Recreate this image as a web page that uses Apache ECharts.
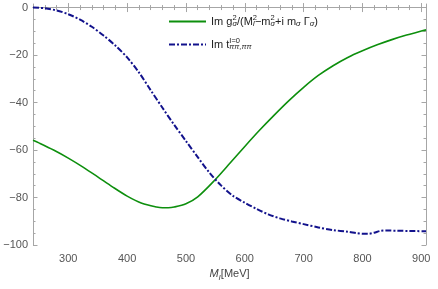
<!DOCTYPE html>
<html><head><meta charset="utf-8">
<script src="https://cdn.jsdelivr.net/npm/echarts@6/dist/echarts.min.js"></script>
<style>html,body{margin:0;padding:0;background:#fff}#c{width:438px;height:289px}</style>
</head><body><div id="c"></div>
<script>
// Green: Im g^2/(M^2 - m^2 + i m Γ)
const massG = [240,250,275,300,325,350,375,400,425,450,460,470,480,500,520,550,575,600,625,650,675,700,725,750,775,800,825,850,875,900,908];
const imG   = [-55.9,-57.0,-60.0,-63.4,-67.2,-71.3,-75.5,-79.4,-82.4,-84.0,-84.3,-84.3,-84.0,-82.6,-79.7,-72.4,-65.5,-58.5,-51.7,-45.3,-39.2,-33.6,-28.6,-24.5,-21.0,-18.2,-15.7,-13.5,-11.6,-9.9,-9.4];
// Blue: Im t^{I=0}_{ππ,ππ}
const massB = [240,260,280,300,320,340,360,380,400,420,440,460,480,500,520,540,560,580,600,620,640,660,680,700,725,750,775,790,800,810,820,830,840,860,880,908];
const imB   = [0,-0.3,-1.2,-2.8,-5.1,-8.1,-11.8,-16.0,-21.0,-27.3,-34.8,-42.2,-49.4,-56.2,-63.0,-69.6,-75.0,-79.3,-82.2,-84.8,-87.1,-88.8,-90.1,-91.2,-92.6,-93.7,-94.4,-95.0,-95.3,-95.3,-94.8,-94.1,-93.9,-94.0,-94.1,-94.2];
// Ticks
const xMajor = [300,400,500,600,700,800,900];
const xMinor = []; for (let v = 260; v <= 900; v += 20) xMinor.push(v);
const yMajor = [-100,-80,-60,-40,-20,0];
const yMinor = []; for (let v = -95; v <= 0; v += 5) yMinor.push(v);
const xRange = [240, 908];
const yRange = [-100, 1.5];

const axisColor = '#a6a6a6';
const font = 'Liberation Sans, Arial, sans-serif';
function xAx(pos, vals, len, labels, line) {
  return {type:'value', position:pos, min:xRange[0], max:xRange[1], gridIndex:0,
    axisLine:{show:line, lineStyle:{color:axisColor, width:1}},
    axisTick:{show:true, inside:true, length:len, customValues:vals, lineStyle:{color:axisColor}},
    axisLabel:{show:labels, customValues:xMajor, color:'#555', fontSize:11, fontFamily:font, margin:8},
    splitLine:{show:false}};
}
function yAx(pos, vals, len, labels, line) {
  return {type:'value', position:pos, min:yRange[0], max:yRange[1], gridIndex:0,
    axisLine:{show:line, onZero:false, lineStyle:{color:axisColor, width:1}},
    axisTick:{show:true, inside:true, length:len, customValues:vals, lineStyle:{color:axisColor}},
    axisLabel:{show:labels, customValues:yMajor, color:'#555', fontSize:11, fontFamily:font, margin:5,
      formatter: v => v < 0 ? '\u2212' + (-v) : String(v)},
    splitLine:{show:false}};
}
const xAxes = [xAx('bottom', xMajor, 4.5, true, true), xAx('bottom', xMinor, 2.5, false, false),
               xAx('top', xMajor, 4.5, false, true), xAx('top', xMinor, 2.5, false, false)];
xAxes[0].name = '{it|M}{sb|I}{n|[MeV]}';
xAxes[0].nameLocation = 'middle';
xAxes[0].nameGap = 22;
xAxes[0].nameTextStyle = {fontFamily:font, color:'#444', rich:{
  it:{fontSize:11, fontStyle:'italic', color:'#444', fontFamily:font},
  sb:{fontSize:8, fontStyle:'italic', color:'#444', fontFamily:font, padding:[6,0,0,0]},
  n:{fontSize:11, color:'#444', fontFamily:font}}};
const yAxes = [yAx('left', yMajor, 4.5, true, true), yAx('left', yMinor, 2.5, false, false),
               yAx('right', yMajor, 4.5, false, true), yAx('right', yMinor, 2.5, false, false)];

const pairs = (xs, ys) => xs.map((x, i) => [x, ys[i]]);
const greenName = 'green';
const blueName = 'blue';
const chart = echarts.init(document.getElementById('c'), null, {renderer:'canvas'});
chart.setOption({
  animation:false,
  backgroundColor:'#fff',
  grid:{left:33, right:12, top:4, bottom:44, containLabel:false, outerBoundsMode:'none'},
  xAxis: xAxes,
  yAxis: yAxes,
  legend:{
    orient:'vertical', left:163, top:9, itemWidth:37, itemHeight:12, itemGap:9,
    itemStyle:{opacity:0},
    data:[greenName, blueName],
    formatter: function(name){
      if (name === greenName) return '{n|Im g}{sp|2}{sb|\u03c3}{n|/(M}{sp|2}{sb|I}{n|\u2212m}{sp|2}{sb|\u03c3}{n|+i m}{sb|\u03c3}{n| \u0393}{sb|\u03c3}{n|)}';
      return '{n|Im t}{sp|I=0}{sbi|\u03c0\u03c0,\u03c0\u03c0}';
    },
    textStyle:{fontFamily:font, color:'#222', rich:{
      n:{fontSize:11, color:'#222', fontFamily:font},
      sp:{fontSize:7.5, color:'#222', fontFamily:font, width:0.001, padding:[0,0,7,0]},
      sb:{fontSize:7.5, color:'#222', fontFamily:font, fontStyle:'italic', padding:[5,0,0,0]},
      sbi:{fontSize:7.5, color:'#222', fontFamily:font, fontStyle:'italic', padding:[5,0,0,0]}
    }}
  },
  series:[
    {name:greenName, type:'line', data:pairs(massG, imG), smooth:0.3, symbol:'none', xAxisIndex:0, yAxisIndex:0,
      lineStyle:{color:'#0d8f0d', width:1.6}, itemStyle:{color:'#0d8f0d'}},
    {name:blueName, type:'line', data:pairs(massB, imB), smooth:0.3, symbol:'none', xAxisIndex:0, yAxisIndex:0,
      lineStyle:{color:'#12128c', width:2, type:[6,2,2,2]}, itemStyle:{color:'#12128c'}}
  ]
});
</script></body></html>
